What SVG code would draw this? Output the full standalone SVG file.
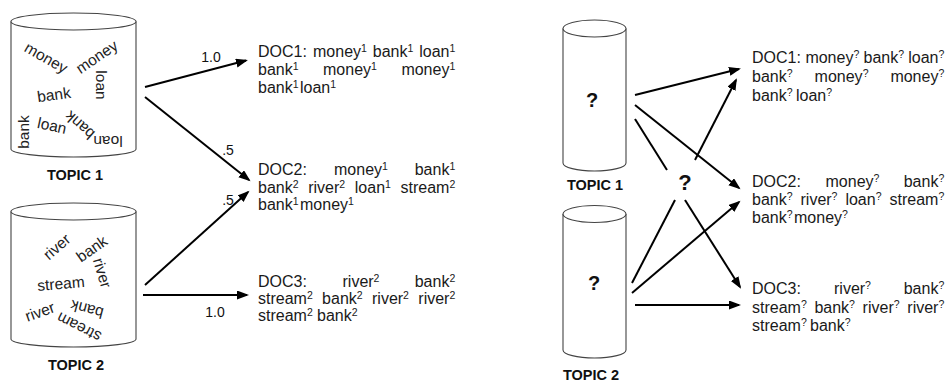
<svg xmlns="http://www.w3.org/2000/svg" width="950" height="383" viewBox="0 0 950 383">
<defs>
<style>
.cyl{fill:#fff;stroke:#444;stroke-width:1.1}
.w{font-family:"Liberation Sans",Arial,sans-serif;font-size:15.5px;fill:#222;text-anchor:middle}
.lbl{font-family:"Liberation Sans",Arial,sans-serif;font-size:14.5px;font-weight:bold;fill:#111;text-anchor:middle}
.q{font-family:"Liberation Sans",Arial,sans-serif;font-weight:bold;fill:#111;text-anchor:middle}
.doc{font-family:"Liberation Sans",Arial,sans-serif;font-size:16px;fill:#1a1a1a}
.s{font-size:10.5px}
.num{font-family:"Liberation Sans",Arial,sans-serif;font-size:14px;fill:#111;text-anchor:middle}
.ln{stroke:#000;stroke-width:2;fill:none}
.ar{marker-end:url(#ah)}
</style>
<marker id="ah" markerUnits="userSpaceOnUse" markerWidth="13" markerHeight="10" refX="10" refY="4.5" orient="auto">
<path d="M0,0 L12,4.5 L0,9 z" fill="#000"/>
</marker>
</defs>

<!-- Left TOPIC 1 -->
<g id="topic1-left">
<path class="cyl" d="M11,21.5 L11,149 A62.5,8 0 0 0 136,149 L136,21.5"/>
<ellipse class="cyl" cx="73.5" cy="21.5" rx="62.5" ry="8.5"/>
<text class="w" transform="translate(46,58) rotate(30)" y="5">money</text>
<text class="w" transform="translate(97,57) rotate(-34)" y="5">money</text>
<text class="w" transform="translate(101,85) rotate(90)" y="5">loan</text>
<text class="w" transform="translate(54,95) rotate(-8)" y="5">bank</text>
<text class="w" transform="translate(24,132) rotate(-90)" y="5">bank</text>
<text class="w" transform="translate(52,126) rotate(12)" y="5">loan</text>
<text class="w" transform="translate(80,125) rotate(222)" y="5">bank</text>
<text class="w" transform="translate(108,141) rotate(180)" y="5">loan</text>
<text class="lbl" x="75" y="180">TOPIC 1</text>
</g>

<!-- Left TOPIC 2 -->
<g id="topic2-left">
<path class="cyl" d="M11,211.5 L11,339 A62.5,8 0 0 0 136,339 L136,211.5"/>
<ellipse class="cyl" cx="73.5" cy="211.5" rx="62.5" ry="8.5"/>
<text class="w" transform="translate(57,247) rotate(-41)" y="5">river</text>
<text class="w" transform="translate(92,249) rotate(-35)" y="5">bank</text>
<text class="w" transform="translate(102,273) rotate(73)" y="5">river</text>
<text class="w" transform="translate(61,284) rotate(-5)" y="5">stream</text>
<text class="w" transform="translate(40,312) rotate(-20)" y="5">river</text>
<text class="w" transform="translate(87,309) rotate(195)" y="5">bank</text>
<text class="w" transform="translate(79,327) rotate(207)" y="5">stream</text>
<text class="lbl" x="76" y="370">TOPIC 2</text>
</g>

<!-- Left documents -->
<g id="doc1-left">
<text class="doc" y="57"><tspan x="258">DOC1:</tspan><tspan x="313">money</tspan><tspan class="s" dy="-5">1</tspan><tspan x="372.8" dy="5">bank</tspan><tspan class="s" dy="-5">1</tspan><tspan x="419.2" dy="5">loan</tspan><tspan class="s" dy="-5">1</tspan></text>
<text class="doc" y="75"><tspan x="258">bank</tspan><tspan class="s" dy="-5">1</tspan><tspan x="323" dy="5">money</tspan><tspan class="s" dy="-5">1</tspan><tspan x="401.4" dy="5">money</tspan><tspan class="s" dy="-5">1</tspan></text>
<text class="doc" y="92.5"><tspan x="258">bank</tspan><tspan class="s" dy="-5">1</tspan><tspan x="300" dy="5">loan</tspan><tspan class="s" dy="-5">1</tspan></text>
</g>
<g id="doc2-left">
<text class="doc" y="175"><tspan x="258">DOC2:</tspan><tspan x="334">money</tspan><tspan class="s" dy="-5">1</tspan><tspan x="414.7" dy="5">bank</tspan><tspan class="s" dy="-5">1</tspan></text>
<text class="doc" y="192.5"><tspan x="258">bank</tspan><tspan class="s" dy="-5">2</tspan><tspan x="308.2" dy="5">river</tspan><tspan class="s" dy="-5">2</tspan><tspan x="354.8" dy="5">loan</tspan><tspan class="s" dy="-5">1</tspan><tspan x="400.5" dy="5">stream</tspan><tspan class="s" dy="-5">2</tspan></text>
<text class="doc" y="210"><tspan x="258">bank</tspan><tspan class="s" dy="-5">1</tspan><tspan x="300" dy="5">money</tspan><tspan class="s" dy="-5">1</tspan></text>
</g>
<g id="doc3-left">
<text class="doc" y="287"><tspan x="258">DOC3:</tspan><tspan x="342.5">river</tspan><tspan class="s" dy="-5">2</tspan><tspan x="414.7" dy="5">bank</tspan><tspan class="s" dy="-5">2</tspan></text>
<text class="doc" y="304"><tspan x="258">stream</tspan><tspan class="s" dy="-5">2</tspan><tspan x="322.1" dy="5">bank</tspan><tspan class="s" dy="-5">2</tspan><tspan x="372" dy="5">river</tspan><tspan class="s" dy="-5">2</tspan><tspan x="418.3" dy="5">river</tspan><tspan class="s" dy="-5">2</tspan></text>
<text class="doc" y="321"><tspan x="258">stream</tspan><tspan class="s" dy="-5">2</tspan><tspan x="317" dy="5">bank</tspan><tspan class="s" dy="-5">2</tspan></text>
</g>

<!-- Right TOPIC 1 -->
<g id="topic1-right">
<path class="cyl" d="M563,28.5 L563,163 A31.5,8 0 0 0 626,163 L626,28.5"/>
<ellipse class="cyl" cx="594.5" cy="28.5" rx="31.5" ry="8.5"/>
<text class="q" x="592" y="107" font-size="20">?</text>
<text class="lbl" x="595" y="190">TOPIC 1</text>
</g>

<!-- Right TOPIC 2 -->
<g id="topic2-right">
<path class="cyl" d="M563,214 L563,350 A31.5,8 0 0 0 626,350 L626,214"/>
<ellipse class="cyl" cx="594.5" cy="214" rx="31.5" ry="8.5"/>
<text class="q" x="594" y="290" font-size="20">?</text>
<text class="lbl" x="591" y="380">TOPIC 2</text>
</g>

<g id="hidden-q">
<text class="q" x="685" y="190" font-size="22">?</text>
</g>

<!-- Right documents -->
<g id="doc1-right">
<text class="doc" y="63"><tspan x="752">DOC1:</tspan><tspan x="805.4">money</tspan><tspan class="s" dy="-5">?</tspan><tspan x="863.5" dy="5">bank</tspan><tspan class="s" dy="-5">?</tspan><tspan x="908.2" dy="5">loan</tspan><tspan class="s" dy="-5">?</tspan></text>
<text class="doc" y="82"><tspan x="752">bank</tspan><tspan class="s" dy="-5">?</tspan><tspan x="814.6" dy="5">money</tspan><tspan class="s" dy="-5">?</tspan><tspan x="890.4" dy="5">money</tspan><tspan class="s" dy="-5">?</tspan></text>
<text class="doc" y="101"><tspan x="752">bank</tspan><tspan class="s" dy="-5">?</tspan><tspan x="796" dy="5">loan</tspan><tspan class="s" dy="-5">?</tspan></text>
</g>
<g id="doc2-right">
<text class="doc" y="187"><tspan x="752">DOC2:</tspan><tspan x="825.5">money</tspan><tspan class="s" dy="-5">?</tspan><tspan x="903.7" dy="5">bank</tspan><tspan class="s" dy="-5">?</tspan></text>
<text class="doc" y="205"><tspan x="752">bank</tspan><tspan class="s" dy="-5">?</tspan><tspan x="800.5" dy="5">river</tspan><tspan class="s" dy="-5">?</tspan><tspan x="845.4" dy="5">loan</tspan><tspan class="s" dy="-5">?</tspan><tspan x="889.5" dy="5">stream</tspan><tspan class="s" dy="-5">?</tspan></text>
<text class="doc" y="223"><tspan x="752">bank</tspan><tspan class="s" dy="-5">?</tspan><tspan x="794" dy="5">money</tspan><tspan class="s" dy="-5">?</tspan></text>
</g>
<g id="doc3-right">
<text class="doc" y="294"><tspan x="752">DOC3:</tspan><tspan x="834">river</tspan><tspan class="s" dy="-5">?</tspan><tspan x="903.7" dy="5">bank</tspan><tspan class="s" dy="-5">?</tspan></text>
<text class="doc" y="313"><tspan x="752">stream</tspan><tspan class="s" dy="-5">?</tspan><tspan x="814.4" dy="5">bank</tspan><tspan class="s" dy="-5">?</tspan><tspan x="862.6" dy="5">river</tspan><tspan class="s" dy="-5">?</tspan><tspan x="907.3" dy="5">river</tspan><tspan class="s" dy="-5">?</tspan></text>
<text class="doc" y="331"><tspan x="752">stream</tspan><tspan class="s" dy="-5">?</tspan><tspan x="810" dy="5">bank</tspan><tspan class="s" dy="-5">?</tspan></text>
</g>

<!-- Connectors -->
<g id="connectors">
<line class="ln ar" x1="145" y1="87" x2="246" y2="60.5"/>
<line class="ln ar" x1="145" y1="97" x2="249" y2="180"/>
<line class="ln ar" x1="145" y1="285" x2="248" y2="192"/>
<line class="ln ar" x1="143" y1="295" x2="247" y2="295"/>
<text class="num" x="211" y="62">1.0</text>
<text class="num" x="228" y="155">.5</text>
<text class="num" x="228" y="205">.5</text>
<text class="num" x="215" y="317">1.0</text>

<line class="ln ar" x1="635" y1="95" x2="739" y2="69"/>
<line class="ln ar" x1="635" y1="105" x2="739" y2="188"/>
<line class="ln" x1="635" y1="119" x2="667" y2="170"/>
<line class="ln ar" x1="695" y1="160" x2="736" y2="80"/>
<line class="ln" x1="675" y1="200" x2="632" y2="283"/>
<line class="ln ar" x1="685" y1="200" x2="740" y2="287"/>
<line class="ln ar" x1="632" y1="293" x2="739" y2="202"/>
<line class="ln ar" x1="635" y1="305" x2="739" y2="305"/>
</g>
</svg>
